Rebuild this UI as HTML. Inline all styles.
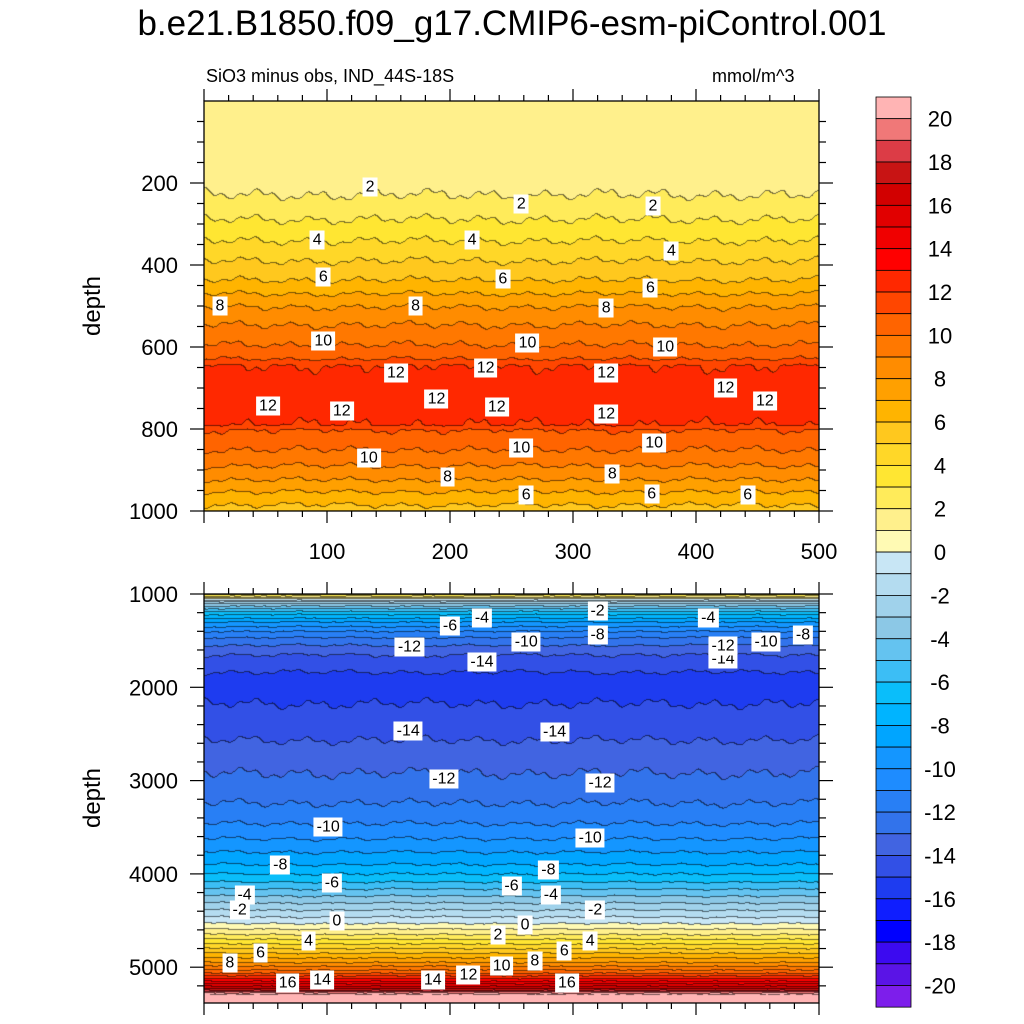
<!DOCTYPE html>
<html><head><meta charset="utf-8">
<style>
body{margin:0;background:#fff;font-family:"Liberation Sans",sans-serif;}
#root{position:relative;width:1024px;height:1024px;overflow:hidden;background:#fff;}
.t{position:absolute;white-space:nowrap;color:#000;}
canvas{position:absolute;}
.lab{position:absolute;background:#fff;font-size:16px;padding:0 3px;line-height:19px;transform:translate(-50%,-50%);}
</style></head>
<body>
<div id="root">
<div class="t" style="left:0;width:1024px;text-align:center;top:4px;font-size:35px;">b.e21.B1850.f09_g17.CMIP6-esm-piControl.001</div>
<div class="t" style="left:206px;top:66px;font-size:18px;">SiO3 minus obs, IND_44S-18S</div>
<div class="t" style="left:712px;top:66px;font-size:18px;">mmol/m^3</div>
<div class="t" style="left:93px;top:306px;font-size:24px;transform:translate(-50%,-50%) rotate(-90deg);">depth</div>
<div class="t" style="left:93px;top:798px;font-size:24px;transform:translate(-50%,-50%) rotate(-90deg);">depth</div>
<canvas id="c1" width="615" height="410" style="left:204px;top:101px"></canvas>
<canvas id="c2" width="615" height="409" style="left:204px;top:594px"></canvas>
<svg id="ax" width="1024" height="1024" style="position:absolute;left:0;top:0"></svg>
</div>
<script>
// ---- data ----
const topDepths=[0,100,150,200,229,260,300,341,390,437,470,502,546,595,630,645,700,740,790,802,851,890,924,953,985,1000];
const topValues=[1.6,1.5,1.3,1.6,2,2.5,3.2,4,5,6,7,8,9,10,11,12,12.6,12.6,12,11,10,9,8,7,6,5.6];
const botDepths=[1000,1050,1100,1200,1300,1400,1500,1650,1800,1950,2100,2250,2500,2800,3000,3300,3500,3700,3900,4050,4200,4350,4500,4550,4650,4750,4850,4950,5050,5150,5230,5270,5290,5400];
const botValues=[3.5,0,-3,-6.5,-9,-11,-12.5,-14,-14.8,-15.6,-15.2,-14.8,-14.2,-13.3,-12.8,-11.8,-10.8,-9.5,-8,-6.5,-4.5,-2.5,-0.5,0.3,2,4,6,8,10.5,14,17,19.5,21,21.5];
const topXTicks=[100,200,300,400,500];
const topYTicks=[200,400,600,800,1000];
const botYTicks=[1000,2000,3000,4000,5000];
const cbLabels=[20,18,16,14,12,10,8,6,4,2,0,-2,-4,-6,-8,-10,-12,-14,-16,-18,-20];
const posColors=["#fffab4","#fff08c","#ffeb5a","#ffe632","#ffd728","#ffc81e","#ffb400","#ffa000","#ff8c00","#ff7800","#ff6400","#ff4600","#ff2800","#ff0000","#f00000","#e10000","#d20000","#c81414","#dc3c46","#f07878","#ffb4b4"];
const negColors=["#c8e6f5","#b4dcf0","#a0d2eb","#8cc8e6","#64c3f0","#3cbef5","#0abefa","#00b4ff","#00a5ff","#1496ff","#1e8cff","#287ff5","#3273eb","#4164e1","#3250e6","#1e3cf0","#0f1eff","#0000ff","#3c0af0","#5a14e6","#7d1eeb"];
const topLabels=[[135,210,"2"],[258,250,"2"],[365,255,"2"],[92,340,"4"],[218,340,"4"],[380,365,"4"],[97,430,"6"],[243,435,"6"],[363,455,"6"],[13,500,"8"],[172,500,"8"],[327,505,"8"],[97,585,"10"],[263,590,"10"],[375,600,"10"],[52,745,"12"],[112,755,"12"],[156,663,"12"],[189,728,"12"],[229,652,"12"],[238,747,"12"],[327,663,"12"],[327,764,"12"],[424,700,"12"],[456,732,"12"],[134,870,"10"],[258,847,"10"],[366,835,"10"],[198,917,"8"],[332,910,"8"],[262,960,"6"],[364,958,"6"],[442,960,"6"]];
const botLabels=[[200,1340,"-6"],[226,1260,"-4"],[320,1440,"-8"],[320,1180,"-2"],[410,1260,"-4"],[487,1440,"-8"],[167,1570,"-12"],[262,1510,"-10"],[226,1730,"-14"],[422,1700,"-14"],[422,1560,"-12"],[457,1510,"-10"],[166,2470,"-14"],[285,2480,"-14"],[195,2980,"-12"],[322,3030,"-12"],[101,3500,"-10"],[314,3620,"-10"],[62,3900,"-8"],[280,3960,"-8"],[104,4100,"-6"],[250,4130,"-6"],[33,4230,"-4"],[282,4230,"-4"],[29,4390,"-2"],[318,4390,"-2"],[108,4500,"0"],[261,4550,"0"],[239,4650,"2"],[85,4720,"4"],[314,4720,"4"],[46,4850,"6"],[293,4830,"6"],[21,4960,"8"],[269,4930,"8"],[242,4990,"10"],[215,5080,"12"],[96,5140,"14"],[186,5140,"14"],[68,5170,"16"],[295,5170,"16"]];
// ---- scales ----
const X0=204,X1=819;
const xS=v=>X0+(X1-X0)*v/500;
const yTop=d=>101+410*d/1000;
const yBot=d=>594+(d-1000)*0.0933;
function interp(ds,vs,d){if(d<=ds[0])return vs[0];for(let i=1;i<ds.length;i++){if(d<=ds[i]){const t=(d-ds[i-1])/(ds[i]-ds[i-1]);return vs[i-1]+t*(vs[i]-vs[i-1]);}}return vs[vs.length-1];}
function hex(c){return [parseInt(c.substr(1,2),16),parseInt(c.substr(3,2),16),parseInt(c.substr(5,2),16)];}
const P=posColors.map(hex),N=negColors.map(hex);
function col(v){if(v>=0){return P[Math.min(20,Math.floor(v))];}return N[Math.min(20,Math.floor(-v))];}
function wig(x,y,a){return a*(0.5*Math.sin(x*0.11+y*0.02)+0.3*Math.sin(x*0.37+1.1)+0.2*Math.sin(x*0.031+1.3));}
function draw(id,ds,vs,toDepth,amp){
 const c=document.getElementById(id),ctx=c.getContext('2d'),W=c.width,H=c.height;
 const im=ctx.createImageData(W,H),V=new Float32Array(W*H);
 for(let y=0;y<H;y++){const base=interp(ds,vs,toDepth(y));for(let x=0;x<W;x++)V[y*W+x]=base+wig(x,y,amp);}
 for(let y=0;y<H;y++)for(let x=0;x<W;x++){const v=V[y*W+x],f=Math.floor(v);let c3=col(v);let line=false;
  if(y+1<H&&Math.floor(V[(y+1)*W+x])!==f&&Math.abs(v)<20.9)line=true;
  else if(x+1<W&&Math.floor(V[y*W+x+1])!==f&&Math.abs(v)<20.9)line=true;
  const k=(y*W+x)*4;const m=line?0.45:1;
  im.data[k]=c3[0]*m;im.data[k+1]=c3[1]*m;im.data[k+2]=c3[2]*m;im.data[k+3]=255;}
 ctx.putImageData(im,0,0);
}
draw('c1',topDepths,topValues,y=>y/0.41,0.25);
draw('c2',botDepths,botValues,y=>1000+y/0.0933,0.18);
// ---- axes ----
const svg=document.getElementById('ax'),NS='http://www.w3.org/2000/svg';
function el(tag,attrs,parent){const e=document.createElementNS(NS,tag);for(const k in attrs)e.setAttribute(k,attrs[k]);(parent||svg).appendChild(e);return e;}
function line(x1,y1,x2,y2){el('line',{x1,y1,x2,y2,stroke:'#000','stroke-width':1.2});}
function text(x,y,s,anchor,size,name){const t=el('text',{x,y,'text-anchor':anchor,'font-size':size,'font-family':'Liberation Sans, sans-serif'});t.textContent=s;return t;}
function frame(y0,y1){el('rect',{x:X0,y:y0,width:X1-X0,height:y1-y0,fill:'none',stroke:'#000','stroke-width':1.3});
 for(let v=0;v<=500;v+=20){const x=xS(v),L=v%100===0?12:6;line(x,y0,x,y0-L);line(x,y1,x,y1+L);}}
frame(101,511);frame(594,1003);
for(let d=50;d<=1000;d+=50){const y=yTop(d),L=d%200===0?14:7;line(X0,y,X0-L,y);line(X1,y,X1+L,y);}
for(let d=1000;d<=5300;d+=200){const y=yBot(d),L=d%1000===0?14:7;line(X0,y,X0-L,y);line(X1,y,X1+L,y);}
topXTicks.forEach(v=>text(xS(v),559,String(v),'middle',22,'x-tick-label'));
topYTicks.forEach(v=>text(178,yTop(v)+8,String(v),'end',22,'y-tick-label-top'));
botYTicks.forEach(v=>text(178,yBot(v)+8,String(v),'end',22,'y-tick-label-bottom'));
// colorbar
const cbX=876,cbW=35,cbTop=97,bh=21.67;
const allCols=posColors.slice().reverse().concat(negColors);
allCols.forEach((c,i)=>{const r=el('rect',{x:cbX,y:cbTop+i*bh,width:cbW,height:bh,fill:c,stroke:'#000','stroke-width':0.8});
 
 });
cbLabels.forEach((v,i)=>text(940,cbTop+bh*(2*i+1)+8,String(v),'middle',22,'colorbar-label'));
// contour labels
const root=document.getElementById('root');
function addLab(x,y,s){const d=document.createElement('div');d.className='lab';d.style.left=x+'px';d.style.top=y+'px';d.textContent=s;
 
 
 root.appendChild(d);}
topLabels.forEach(a=>addLab(xS(a[0]),yTop(a[1]),a[2]));
botLabels.forEach(a=>addLab(xS(a[0]),yBot(a[1]),a[2]));
</script>
</body></html>
